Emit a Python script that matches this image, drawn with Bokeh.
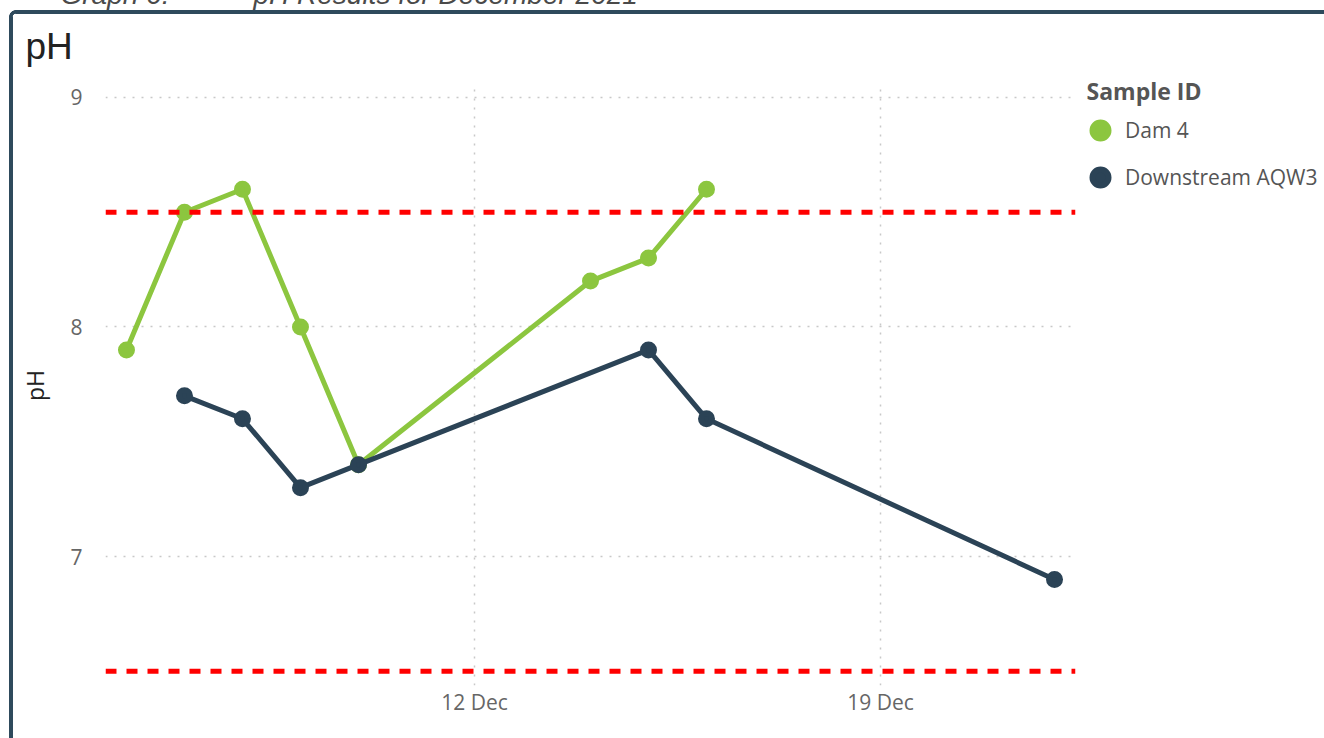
import pandas as pd
from bokeh.plotting import figure
from bokeh.models import (Range1d, FixedTicker, Span, Legend, LegendItem, Title,
                          ColumnDataSource)
from bokeh.embed import file_html
from bokeh.resources import INLINE

# ---- data ----
dam4_dates = ["2021-12-06", "2021-12-07", "2021-12-08", "2021-12-09", "2021-12-10",
              "2021-12-14", "2021-12-15", "2021-12-16"]
dam4_ph = [7.9, 8.5, 8.6, 8.0, 7.4, 8.2, 8.3, 8.6]
aqw3_dates = ["2021-12-07", "2021-12-08", "2021-12-09", "2021-12-10", "2021-12-15",
              "2021-12-16", "2021-12-22"]
aqw3_ph = [7.7, 7.6, 7.3, 7.4, 7.9, 7.6, 6.9]
limit_values = [8.5, 6.5]
y_ticks = [7, 8, 9]
x_tick_dates = ["2021-12-12", "2021-12-19"]
x_tick_labels = ["12 Dec", "19 Dec"]
series_names = ["Dam 4", "Downstream AQW3"]
legend_title = "Sample ID"
chart_title = "pH"
caption = "Graph 6:\u2003\u2003\u2003pH Results for December 2021"

GREEN = "#8cc63f"
DARK = "#2b4356"
BORDER = "#2e4a5c"
FONT = "Open Sans"

HIDE = 40                     # canvas rows hidden above the window (caption is cut)
W, H = 1324, 738
FL, FR = 105, 1075
FT, FB = 85 + HIDE, 685 + HIDE   # frame edges in canvas pixels

X0 = pd.Timestamp("2021-12-05 15:19")
X1 = pd.Timestamp("2021-12-22 08:41")
Y0, Y1 = 6.438, 9.052

bx, by, r = 9, 10 + HIDE, 7
solid = f"linear-gradient({BORDER}, {BORDER})"
corner = (f"radial-gradient(circle at 100% 100%, transparent 3px, {BORDER} 3.6px, "
          f"{BORDER} 6.6px, transparent 7.2px)")
card_css = {
    "margin-top": f"-{HIDE}px",
    "background-image": f"{solid}, {solid}, {corner}",
    "background-size": f"4px 100%, 100% 4px, {r}px {r}px",
    "background-position": f"{bx}px {by + r}px, {bx + r}px {by}px, {bx}px {by}px",
    "background-repeat": "no-repeat",
}

p = figure(frame_width=FR - FL, frame_height=FB - FT, x_axis_type="datetime",
           output_backend="svg", toolbar_location=None,
           x_range=Range1d(X0, X1), y_range=Range1d(Y0, Y1),
           min_border_left=FL, min_border_right=W - FR, min_border_top=FT,
           min_border_bottom=H + HIDE - FB, styles=card_css)
p.outline_line_color = None
p.background_fill_color = "white"
p.border_fill_alpha = 0

# titles: document caption (outermost, cut by the window top) and chart title
p.title.text = caption
p.title.align = "left"
p.title.offset = 60 - FL
p.title.standoff = -9
p.title.text_font = "Liberation Sans"
p.title.text_font_style = "italic"
p.title.text_font_size = "28px"
p.title.text_color = "#4a4a4a"
p.add_layout(Title(text=chart_title, align="left", offset=25 - FL, standoff=37,
                   text_font="Liberation Sans", text_font_style="normal",
                   text_font_size="37px", text_color="#222222"), "above")

src1 = ColumnDataSource(dict(x=pd.to_datetime(dam4_dates), y=dam4_ph))
src2 = ColumnDataSource(dict(x=pd.to_datetime(aqw3_dates), y=aqw3_ph))

# limit lines
for v in limit_values:
    p.add_layout(Span(location=v, dimension="width", line_color="#ff0000",
                      line_width=5, line_dash="11 10"))

p.line("x", "y", source=src1, line_color=GREEN, line_width=5)
r1 = p.scatter("x", "y", source=src1, size=11, fill_color=GREEN, line_color=GREEN,
               line_width=6)
p.line("x", "y", source=src2, line_color=DARK, line_width=5)
r2 = p.scatter("x", "y", source=src2, size=11, fill_color=DARK, line_color=DARK,
               line_width=6)

# axes
tick_ms = [int(pd.Timestamp(d).timestamp() * 1000) for d in x_tick_dates]
p.xaxis.ticker = FixedTicker(ticks=tick_ms)
p.xaxis.major_label_overrides = {t: l for t, l in zip(tick_ms, x_tick_labels)}
p.yaxis.ticker = FixedTicker(ticks=y_ticks)
for ax in (p.xaxis, p.yaxis):
    ax.axis_line_color = None
    ax.major_tick_line_color = None
    ax.minor_tick_line_color = None
    ax.major_label_text_font = FONT
    ax.major_label_text_font_size = "21px"
    ax.major_label_text_color = "#666666"
p.xaxis.major_label_standoff = -4
p.yaxis.major_label_standoff = 17
p.yaxis.axis_label = "pH"
p.yaxis.axis_label_text_font = FONT
p.yaxis.axis_label_text_font_style = "normal"
p.yaxis.axis_label_text_font_size = "23px"
p.yaxis.axis_label_text_color = "#222222"
p.yaxis.axis_label_standoff = 16

p.xgrid.ticker = FixedTicker(ticks=tick_ms)
p.ygrid.ticker = FixedTicker(ticks=y_ticks)
for g in (p.xgrid, p.ygrid):
    g.grid_line_color = "#c8c8c8"
    g.grid_line_dash = "2 7"
    g.grid_line_width = 1.5

# legend
legend = Legend(items=[LegendItem(label=series_names[0], renderers=[r1]),
                       LegendItem(label=series_names[1], renderers=[r2])],
                title="\u2002" + legend_title, location=(0, 488),
                title_text_font=FONT, title_text_font_style="bold",
                title_text_font_size="23px", title_text_color="#555555",
                label_text_font=FONT, label_text_font_size="21px",
                label_text_color="#555555", border_line_color=None,
                background_fill_alpha=0, margin=0, padding=0,
                glyph_width=50, glyph_height=40, spacing=7, title_standoff=3,
                label_standoff=-2)
p.add_layout(legend, "right")

open("out.html", "w").write(file_html(p, INLINE))
